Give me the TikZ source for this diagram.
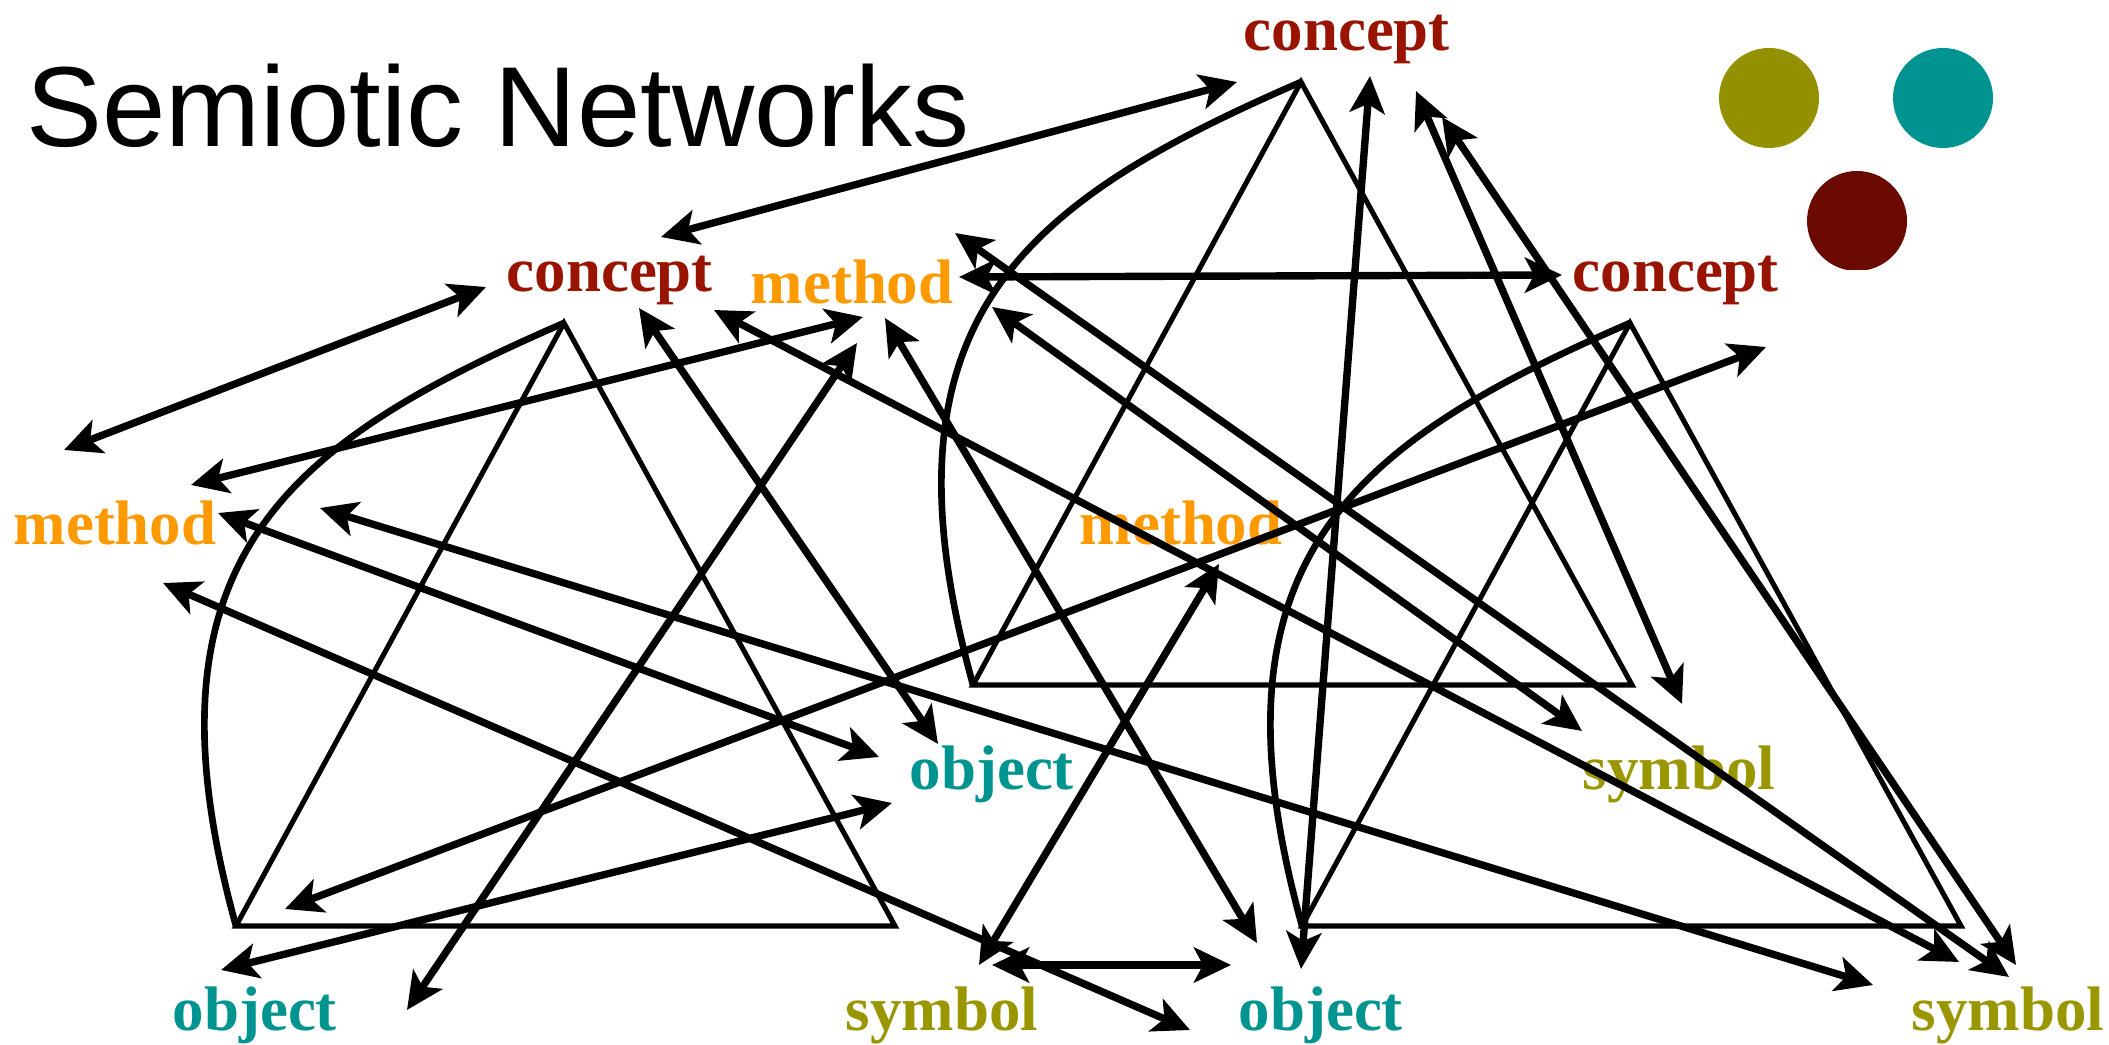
\documentclass[tikz,border=0pt]{standalone}
\usepackage{fontspec}
\setmainfont{Liberation Serif}
\newfontfamily\titlefont{Liberation Sans}
\usetikzlibrary{arrows.meta}
\definecolor{cconcept}{RGB}{153,20,0}
\definecolor{cmethod}{RGB}{255,153,0}
\definecolor{cobject}{RGB}{0,148,144}
\definecolor{csymbol}{RGB}{153,150,0}
\definecolor{dotolive}{RGB}{148,145,0}
\definecolor{dotteal}{RGB}{0,147,144}
\definecolor{dotred}{RGB}{106,10,0}
\newcommand\SemTriangle[3]{%
  \begin{scope}[shift={(#2,#3)}]
    \coordinate (#1a) at (564,323);
    \coordinate (#1l) at (236,926);
    \coordinate (#1r) at (895,926);
    \draw[triside] (#1l) -- (#1a) -- (#1r) -- cycle;
    \draw[bow] (#1a) .. controls (288,443) and (134,558) .. (#1l);
    \node[lbl, text=cconcept] (#1concept) at (506,292) {concept};
    \node[lbl, text=cmethod]  (#1method)  at (13,545)  {method};
    \node[lbl, text=cobject]  (#1object)  at (172,1030) {object};
    \node[lbl, text=csymbol]  (#1symbol)  at (845,1030) {symbol};
  \end{scope}}
\begin{document}
\begin{tikzpicture}[x=0.1mm,y=-0.1mm,
  lbl/.style={anchor=base west, inner sep=0pt, font=\fontsize{17.9pt}{20pt}\selectfont\bfseries},
  link/.style={line width=2.1pt, {Stealth[length=3.7mm,width=3.5mm,inset=0.9mm]}-{Stealth[length=3.7mm,width=3.5mm,inset=0.9mm]}},
  triside/.style={line width=1.45pt, line join=miter},
  bow/.style={line width=1.9pt},
  dot/.style={circle, minimum size=10mm, inner sep=0pt, draw=none}]
\useasboundingbox (0,0) rectangle (2109,1045);
\node[anchor=base west, inner sep=0pt, font=\titlefont\fontsize{32.4pt}{36pt}\selectfont] (title) at (26,147) {Semiotic Networks};
\begin{scope}
  \clip (1700,49) rectangle (2020,160);
  \node[dot, fill=dotolive] (dolive) at (1769,98) {};
  \node[dot, fill=dotteal] (dteal) at (1943,98) {};
\end{scope}
\begin{scope}
  \clip (1780,160) rectangle (1940,270);
  \node[dot, fill=dotred] (dred) at (1857,221) {};
\end{scope}
\SemTriangle{A}{0}{0}
\SemTriangle{B}{737}{-241}
\SemTriangle{C}{1066}{0}
\foreach \n/\xa/\ya/\xb/\yb in {
  1/64/450/486/287,
  2/661/237/1237/82,
  3/191/485/863/317,
  4/218/513/879/757,
  5/320/508/1873/985,
  6/163/583/1190/1030,
  7/639/308/938/744,
  8/714/310/1959/962,
  9/992/307/1582/731,
  10/955/233/2009/977,
  11/959/277/1562/275,
  12/885/318/1257/943,
  13/857/343/407/1010,
  14/285/909/1766/347,
  15/221/970/892/803,
  16/979/965/1219/564,
  17/992/965/1231/965,
  18/1301/969/1370/76,
  19/1416/91/1682/704,
  20/1442/117/2016/965}{
  \coordinate (e\n s) at (\xa,\ya);
  \coordinate (e\n t) at (\xb,\yb);
  \draw[link] (e\n s) -- (e\n t);
}
\end{tikzpicture}
\end{document}
